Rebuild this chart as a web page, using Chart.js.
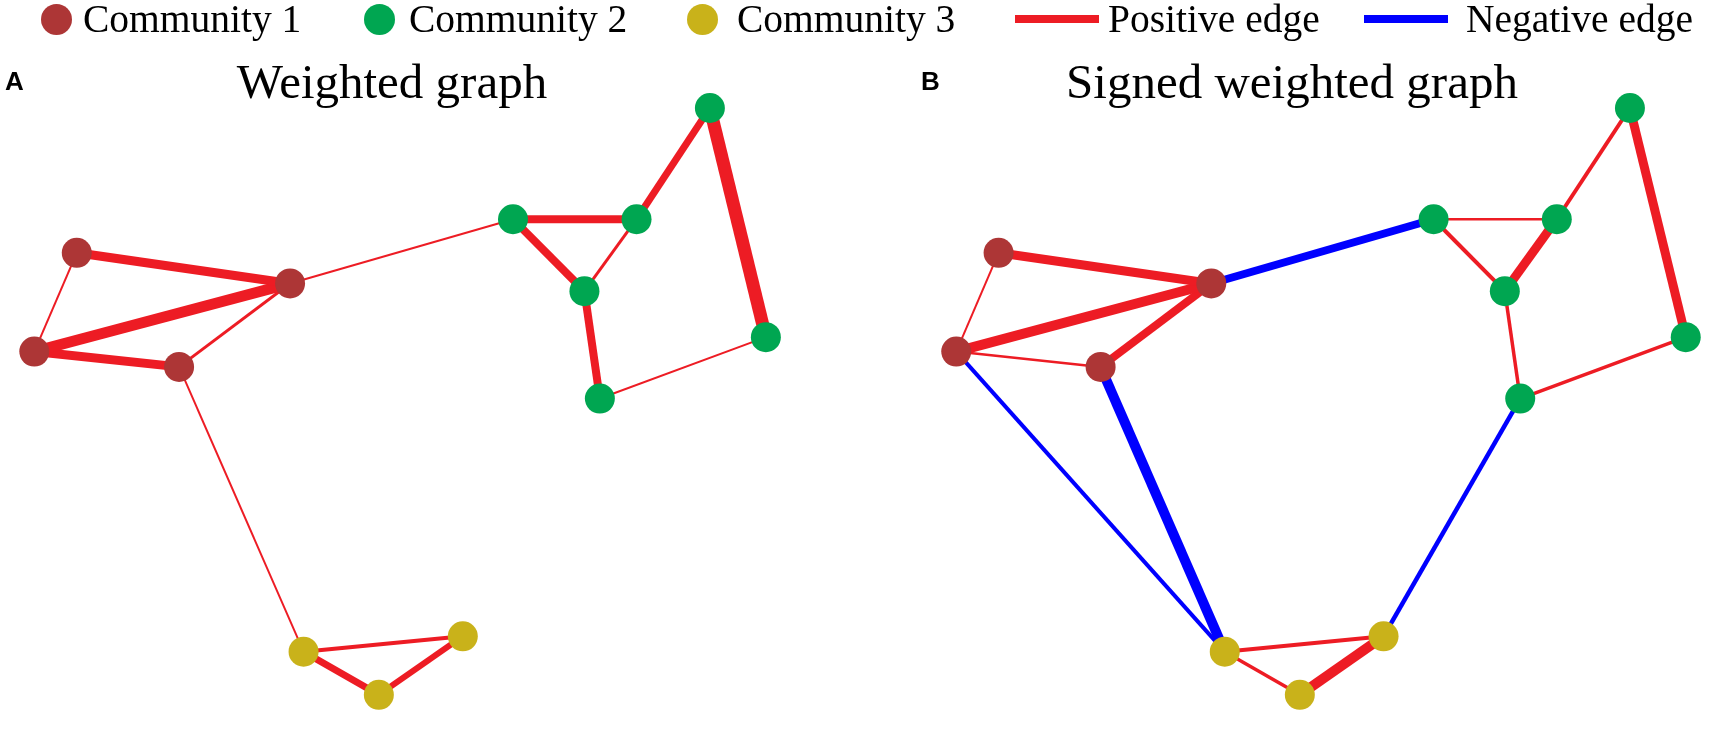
<!DOCTYPE html>
<html><head><meta charset="utf-8">
<script src="https://cdn.jsdelivr.net/npm/chart.js@4/dist/chart.umd.min.js"></script>
<style>
html,body{margin:0;padding:0;background:#fff;}
#wrap{position:relative;width:1720px;height:729px;overflow:hidden;background:#fff;}
canvas{position:absolute;top:0;}
.t{position:absolute;white-space:nowrap;line-height:1;color:#000;}
.serif{font-family:"Liberation Serif","Times New Roman",serif;font-weight:normal;}
.lab{font-family:"Liberation Sans",Arial,sans-serif;font-weight:bold;}
.dot{position:absolute;border-radius:50%;}
.bar{position:absolute;}
</style></head>
<body><div id="wrap">
<canvas id="chartA" width="860" height="729" style="left:0"></canvas>
<canvas id="chartB" width="798" height="729" style="left:922px"></canvas>
</div>
<script>
// ---------- data ----------
const communityNames = ['Community 1', 'Community 2', 'Community 3'];
const edgeTypeNames = ['Positive edge', 'Negative edge'];
const panelTitles = ['Weighted graph', 'Signed weighted graph'];
const panelLetters = ['A', 'B'];

// shared node layout (both panels use the same layout)
const nodeIds = ['c1a', 'c1b', 'c1c', 'c1d', 'c2a', 'c2b', 'c2c', 'c2d', 'c2e', 'c2f', 'c3a', 'c3b', 'c3c'];
const nodeX = [64, 285, 20, 170, 516, 644, 590, 720, 778, 606, 299, 377, 464];
const nodeY = [248, 280, 351, 367, 213, 213, 288, 97, 336, 400, 664, 709, 648];
const nodeCommunity = [1, 1, 1, 1, 2, 2, 2, 2, 2, 2, 3, 3, 3];

// panel A: weighted graph
const edgesAFrom = [0, 0, 2, 2, 3, 1, 3, 4, 4, 5, 5, 7, 6, 9, 10, 10, 11];
const edgesATo = [1, 2, 1, 3, 1, 4, 10, 5, 6, 6, 7, 8, 9, 8, 11, 12, 12];
const edgesAWeight = [0.9, 0.2, 1.1, 0.9, 0.3, 0.2, 0.2, 0.8, 0.8, 0.3, 0.7, 1.3, 0.8, 0.2, 0.7, 0.4, 0.6];

// panel B: signed weighted graph
const edgesBFrom = [0, 0, 2, 2, 3, 1, 2, 3, 4, 4, 5, 5, 7, 6, 9, 9, 10, 10, 11];
const edgesBTo = [1, 2, 1, 3, 1, 4, 10, 10, 5, 6, 6, 7, 8, 9, 8, 12, 12, 11, 12];
const edgesBWeight = [0.9, 0.2, 1.0, 0.25, 0.8, -0.8, -0.4, -1.0, 0.25, 0.4, 0.9, 0.4, 0.9, 0.35, 0.35, -0.45, 0.4, 0.35, 1.0];

// ---------- styles ----------
const COMM_COLORS = ['#AD3636', '#00A651', '#C9B21A'];
const POS_COLOR = '#ED1C24';
const NEG_COLOR = '#0000FF';
const WIDTH_SCALE = 10;
const NODE_R = 15;

function makeChart(id, xMax, from, to, w) {
  const datasets = [{
    label: 'nodes',
    data: nodeX.map((x, i) => ({ x: x, y: nodeY[i] })),
    showLine: false,
    pointRadius: NODE_R,
    pointHoverRadius: NODE_R,
    pointBackgroundColor: nodeCommunity.map(c => COMM_COLORS[c - 1]),
    pointBorderWidth: 0,
    borderWidth: 0,
    order: 0,
    clip: false
  }];
  from.forEach((f, k) => {
    const t = to[k];
    datasets.push({
      label: nodeIds[f] + '-' + nodeIds[t],
      data: [{ x: nodeX[f], y: nodeY[f] }, { x: nodeX[t], y: nodeY[t] }],
      showLine: true,
      borderColor: w[k] >= 0 ? POS_COLOR : NEG_COLOR,
      borderWidth: Math.abs(w[k]) * WIDTH_SCALE,
      borderCapStyle: 'butt',
      pointRadius: 0,
      pointHoverRadius: 0,
      tension: 0,
      order: 1,
      clip: false
    });
  });
  return new Chart(document.getElementById(id), {
    type: 'scatter',
    data: { datasets: datasets },
    options: {
      responsive: false,
      animation: false,
      events: [],
      layout: { padding: 0 },
      plugins: { legend: { display: false }, tooltip: { enabled: false }, title: { display: false } },
      scales: {
        x: { type: 'linear', min: 0, max: xMax, display: false },
        y: { type: 'linear', min: 0, max: 729, reverse: true, display: false }
      }
    }
  });
}
makeChart('chartA', 860, edgesAFrom, edgesATo, edgesAWeight);
makeChart('chartB', 798, edgesBFrom, edgesBTo, edgesBWeight);

// ---------- legend & titles (real text) ----------
const wrap = document.getElementById('wrap');
function el(cls, css, text) {
  const d = document.createElement('div');
  d.className = cls;
  d.style.cssText = css;
  if (text) d.textContent = text;
  wrap.appendChild(d);
  return d;
}
const LEG_FONT = 39.5, LEG_TOP = 0;
const dotCx = [56, 379, 702], textX = [83, 409, 737];
communityNames.forEach((n, i) => {
  el('dot', `left:${dotCx[i] - 15.5}px;top:${19 - 15.5}px;width:31px;height:31px;background:${COMM_COLORS[i]}`);
  el('t serif', `left:${textX[i]}px;top:${LEG_TOP}px;font-size:${LEG_FONT}px`, n);
});
const barX = [1015, 1364], barText = [1108, 1466], barCol = [POS_COLOR, NEG_COLOR];
edgeTypeNames.forEach((n, i) => {
  el('bar', `left:${barX[i]}px;top:15px;width:84px;height:8px;background:${barCol[i]}`);
  el('t serif', `left:${barText[i]}px;top:${LEG_TOP}px;font-size:${LEG_FONT}px`, n);
});
const titleCx = [392, 1292];
panelTitles.forEach((n, i) => {
  el('t serif', `left:${titleCx[i] - 400}px;width:800px;text-align:center;top:57px;font-size:49px`, n);
});
const letterX = [5, 921];
panelLetters.forEach((n, i) => {
  el('t lab', `left:${letterX[i]}px;top:68px;font-size:26px`, n);
});
</script>
</body></html>
